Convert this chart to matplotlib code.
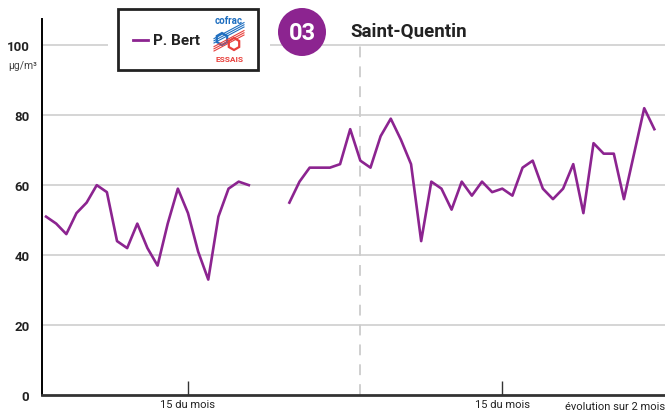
import numpy as np
import matplotlib
matplotlib.use("Agg")
import matplotlib.pyplot as plt
from matplotlib.patches import Rectangle, Circle, RegularPolygon

# daily values over two months (NaN = no data)
values = [51, 49, 46, 52, 55, 60, 58, 44, 42, 49,
          42, 37, 49, 59, 52, 41, 33, 51, 59, 61,
          60, np.nan, np.nan, np.nan, 55, 61, 65, 65, 65, 66,
          76, 67, 65, 74, 79, 73, 66, 44, 61, 59,
          53, 61, 57, 61, 58, 59, 57, 65, 67, 59,
          56, 59, 66, 52, 72, 69, 69, 56, 69, 82, 76]
days = np.arange(len(values))
month_split = 31
mid_ticks = [14, 45]
mid_labels = ["15 du mois", "15 du mois"]
y_ticks = [0, 20, 40, 60, 80, 100]
station = "P. Bert"
city = "Saint-Quentin"
number = "03"

purple = "#8c2490"
plt.rcParams["font.family"] = ["Roboto", "DejaVu Sans"]

fig = plt.figure(figsize=(6.65, 4.14), dpi=100)
ax = fig.add_axes([42/665, 18/414, 623/665, 376/414])

for t in y_ticks[1:]:
    ax.axhline(t, color="#d2d2d2", lw=1.3, zorder=1)
ax.axvline(month_split, color="#cccccc", lw=1.3, ls=(0, (6, 5)), zorder=1)
ax.plot(days, values, color=purple, lw=1.9, zorder=3)

ax.set_xlim(-0.4, 61.05)
ax.set_ylim(0, 107.5)
ax.set_yticks(y_ticks)
ax.set_yticklabels([str(t) for t in y_ticks], fontweight="bold", fontsize=9.5, color="#222222")
ax.tick_params(axis="y", length=0, pad=9)
ax.set_xticks(mid_ticks)
ax.set_xticklabels(mid_labels, fontsize=8, color="#222222")
ax.tick_params(axis="x", direction="in", length=10, width=1, color="#333333", pad=3)
for s in ["top", "right"]:
    ax.spines[s].set_visible(False)
ax.spines["left"].set_linewidth(1.4)
ax.spines["bottom"].set_linewidth(2)
ax.spines["bottom"].set_color("#333333")
ax.text(1.0, -0.03, "évolution sur 2 mois", transform=ax.transAxes,
        ha="right", va="center", fontsize=8, color="#222222")

# header overlay in pixel coordinates
hd = fig.add_axes([0, 0, 1, 1], zorder=5)
hd.set_xlim(0, 665)
hd.set_ylim(414, 0)
hd.axis("off")
hd.text(23, 66, "µg/m³", fontsize=7.5, color="#444444", ha="center", va="center")
hd.add_patch(Rectangle((108, 4), 162, 76, facecolor="white", edgecolor="none"))
hd.add_patch(Rectangle((118, 10), 140, 61, facecolor="white", edgecolor="#222222", lw=2))
hd.plot([133, 148], [41, 41], color=purple, lw=2)
hd.text(153, 41, station, fontsize=11, fontweight="bold", va="center", ha="left", color="#222222")
# cofrac logo
hd.text(229, 21, "cofrac", fontsize=7, fontweight="bold", color="#1f6fc0", ha="center", va="center")
for k in range(3):
    hd.plot([214, 244], [44 - 2.2 * k, 28 - 2.2 * k], color="#1f6fc0", lw=0.8)
    hd.plot([214, 244], [52 - 2.2 * k, 36 - 2.2 * k], color="#e8403c", lw=0.8)
hd.add_patch(RegularPolygon((222, 40), 6, radius=6, facecolor="white", edgecolor="#1f6fc0", lw=1.6))
hd.add_patch(RegularPolygon((234, 45), 6, radius=6, facecolor="white", edgecolor="#e8403c", lw=1.6))
hd.text(229, 59, "ESSAIS", fontsize=6, fontweight="bold", color="#e8403c", ha="center", va="center")
hd.add_patch(Circle((302, 33), 24, facecolor=purple, edgecolor="none"))
hd.text(302, 34, number, fontsize=17, fontweight="bold", color="white", ha="center", va="center")
hd.text(350, 32, city, fontsize=13.5, fontweight="bold", color="#222222", ha="left", va="center")

fig.savefig("out.png", dpi=100)
